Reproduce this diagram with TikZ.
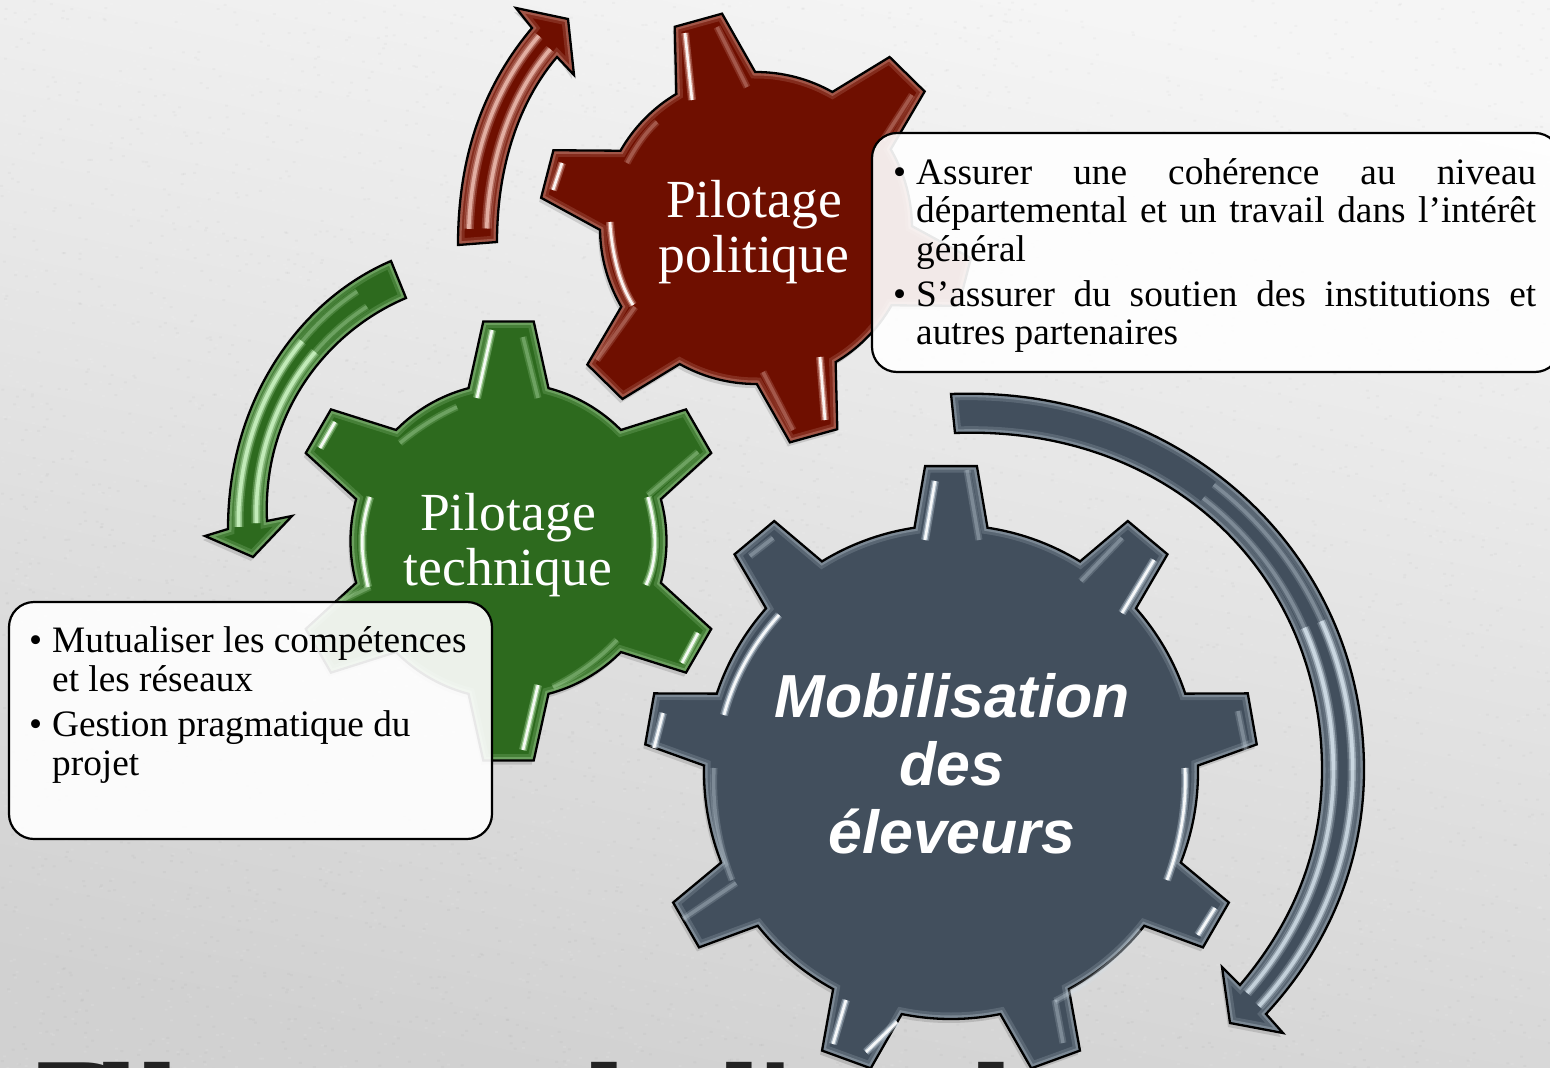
\documentclass[tikz,border=0pt]{standalone}
\usepackage{fontspec}
\setmainfont{Liberation Serif}
\newfontfamily\mobfont{Liberation Sans}
\newfontfamily\titlefont{DejaVu Sans}
\usetikzlibrary{calc}
\definecolor{redbase}{HTML}{6F0F00}
\definecolor{redlight}{HTML}{F2C4B8}
\definecolor{greenbase}{HTML}{2D6A1E}
\definecolor{greenlight}{HTML}{CDF5C4}
\definecolor{bluebase}{HTML}{424F5D}
\definecolor{bluelight}{HTML}{D5E2EC}
\definecolor{titleink}{HTML}{222222}
\tikzset{
  infobox/.style={draw=black,line width=2.2,fill=white,fill opacity=.91,rounded corners=25pt,inner sep=0,minimum width=#1},
  gearlabel/.style={text=white,align=center,inner sep=0,font=\fontsize{53.6}{55.5}\selectfont},
  bodytext/.style={inner sep=0,anchor=north west,text=black,font=\fontsize{37.3}{38.6}\selectfont},
  titlebit/.style={inner sep=0,anchor=base west,text=titleink,font=\titlefont\bfseries\fontsize{145}{145}\selectfont},
}
\newcommand\setgear[8]{\def\gx{#1}\def\gy{#2}\def\gR{#3}\def\gT{#4}\def\gph{#6}\def\gal{#7}\def\gbe{#8}%
  \pgfmathsetmacro\gst{360/#5}\pgfmathtruncatemacro\gnm{#5-1}}
\newcommand\gearoutline{({\gx+\gR*cos(\gph+\gal)},{\gy-\gR*sin(\gph+\gal)})
  \foreach \k [evaluate=\k as \ta using \gph-\k*\gst] in {0,...,\gnm}{
    -- ({\gx+\gT*cos(\ta+\gbe)},{\gy-\gT*sin(\ta+\gbe)})
    -- ({\gx+\gT*cos(\ta-\gbe)},{\gy-\gT*sin(\ta-\gbe)})
    -- ({\gx+\gR*cos(\ta-\gal)},{\gy-\gR*sin(\ta-\gal)})
    arc[start angle=\ta-\gal,end angle=\ta-\gst+\gal,radius=\gR pt]
  } -- cycle}
\newcommand\bevelshape[3]{%
  \fill[black,opacity=.13,shift={(-2,4)}] #1;
  \fill[#2] #1;
  \begin{scope}
    \clip #1;
    \draw[#3,opacity=.16,line width=13] #1;
    \draw[#3,opacity=.28,line width=7] #1;
  \end{scope}
  \draw[black,line width=2.3,line join=miter] #1;
}
\newcommand\bright[2]{%
  \draw[#1,opacity=.3,line width=8] #2;
  \draw[#1,opacity=.6,line width=5] #2;
  \draw[white,opacity=.9,line width=2.6] #2;}
\newcommand\soft[2]{%
  \draw[#1,opacity=.22,line width=10] #2;
  \draw[#1,opacity=.4,line width=6.5] #2;
  \draw[#1,opacity=.75,line width=3.5] #2;}
\newcommand\faint[2]{%
  \draw[#1,opacity=.18,line width=7] #2;
  \draw[#1,opacity=.28,line width=3.5] #2;}
% streak: the part t0..1 of a curve lying a fraction s across a shaft (outer edge A B C D, inner edge Ai Bi Ci Di)
\newcommand\streak[8]{%
  \coordinate (qA) at ($(#3)!#7!(#3i)$);
  \coordinate (qB) at ($(#4)!#7!(#4i)$);
  \coordinate (qC) at ($(#5)!#7!(#5i)$);
  \coordinate (qD) at ($(#6)!#7!(#6i)$);
  \coordinate (q1) at ($(qA)!#8!(qB)$);
  \coordinate (q2) at ($(qB)!#8!(qC)$);
  \coordinate (q3) at ($(qC)!#8!(qD)$);
  \coordinate (r1) at ($(q1)!#8!(q2)$);
  \coordinate (r2) at ($(q2)!#8!(q3)$);
  \coordinate (s0) at ($(r1)!#8!(r2)$);
  #1{#2}{(s0) .. controls (r2) and (q3) .. (qD)}}
\begin{document}
\begin{tikzpicture}[x=1pt,y=-1pt,line cap=butt]
\path[use as bounding box] (0,0) rectangle (1550,1068);
% background
\shade[shading=axis,top color=white!96!black,bottom color=white!82!black,shading angle=-12] (0,0) rectangle (1550,1068);
\pgfmathsetseed{42}
\foreach \j in {1,...,80}{
  \fill[white,opacity=.09] \foreach \i in {1,...,50}{({775+775*rand},{534+534*rand}) rectangle ++(3,2)};
  \fill[black,opacity=.022] \foreach \i in {1,...,50}{({775+775*rand},{534+534*rand}) rectangle ++(3,2)};
}
% cropped title: only the tops of the letters are on the page
\node[titlebit] (tPil) at (25,1172) {\raisebox{4pt}{P}\kern-39.6pt i\kern-9.7pt l};
\node[titlebit] (td) at (525,1172) {d};
\node[titlebit] (tl2) at (714,1172) {l\kern-10.7pt\raisebox{4pt}{'}};
\node[titlebit] (tl3) at (966,1172) {l};
%---------- red arrow
\coordinate (a0) at (458,245); \coordinate (a1) at (458,155); \coordinate (a2) at (484,85); \coordinate (a3) at (532,28);
\coordinate (a0i) at (497,242); \coordinate (a1i) at (497,165); \coordinate (a2i) at (520,100); \coordinate (a3i) at (557,57);
\def\arrowpath{(a0) .. controls (a1) and (a2) .. (a3) -- (516,8) -- (568,19) -- (574,75) -- (a3i) .. controls (a2i) and (a1i) .. (a0i) -- cycle}
\bevelshape{\arrowpath}{redbase}{redlight}
\streak{\soft}{redlight}{a0}{a1}{a2}{a3}{.27}{.06}
\streak{\soft}{redlight}{a0}{a1}{a2}{a3}{.73}{.06}
%---------- green arrow
\coordinate (a0) at (391,261); \coordinate (a1) at (300,300); \coordinate (a2) at (228,400); \coordinate (a3) at (228,529);
\coordinate (a0i) at (406,298); \coordinate (a1i) at (330,330); \coordinate (a2i) at (262,410); \coordinate (a3i) at (267,521);
\def\arrowpath{(a0) .. controls (a1) and (a2) .. (a3) -- (205,536) -- (253,557) -- (292,516) -- (a3i) .. controls (a2i) and (a1i) .. (a0i) -- cycle}
\bevelshape{\arrowpath}{greenbase}{greenlight}
\streak{\faint}{greenlight}{a0}{a1}{a2}{a3}{.27}{.15}
\streak{\faint}{greenlight}{a0}{a1}{a2}{a3}{.73}{.15}
\streak{\soft}{greenlight}{a0}{a1}{a2}{a3}{.27}{.4}
\streak{\soft}{greenlight}{a0}{a1}{a2}{a3}{.73}{.4}
%---------- blue arrow
\coordinate (a0) at (951,394); \coordinate (a1) at (1180,385); \coordinate (a2) at (1364,550); \coordinate (a3) at (1364,770);
\coordinate (b1) at (1364,860); \coordinate (b2) at (1330,945); \coordinate (b3) at (1266,1014);
\coordinate (a0i) at (955,433); \coordinate (a1i) at (1165,425); \coordinate (a2i) at (1322,570); \coordinate (a3i) at (1322,770);
\coordinate (b1i) at (1322,850); \coordinate (b2i) at (1295,920); \coordinate (b3i) at (1240,985);
\def\arrowpath{(a0) .. controls (a1) and (a2) .. (a3) .. controls (b1) and (b2) .. (b3) -- (1283,1033) -- (1230,1023) -- (1222,967) -- (b3i) .. controls (b2i) and (b1i) .. (a3i) .. controls (a2i) and (a1i) .. (a0i) -- cycle}
\bevelshape{\arrowpath}{bluebase}{bluelight}
\streak{\soft}{bluelight}{a3}{b1}{b2}{b3}{.27}{.0}
\streak{\soft}{bluelight}{a3}{b1}{b2}{b3}{.73}{.0}
\streak{\faint}{bluelight}{a0}{a1}{a2}{a3}{.27}{.45}
\streak{\faint}{bluelight}{a0}{a1}{a2}{a3}{.73}{.45}
\streak{\soft}{bluelight}{a0}{a1}{a2}{a3}{.27}{.75}
\streak{\soft}{bluelight}{a0}{a1}{a2}{a3}{.73}{.75}
%---------- red gear
\setgear{756}{228}{156}{217}{6}{105.5}{15.2}{6.5}
\bevelshape{\gearoutline}{redbase}{redlight}
\bright{redlight}{(685,33) -- (692,100)}
\bright{redlight}{(562,163) -- (553,190)}
\bright{redlight}{(610,222) .. controls (612,255) and (620,285) .. (633,305)}
\bright{redlight}{(820,357) -- (825,420)}
\faint{redlight}{(717,27) -- (747,87)}
\faint{redlight}{(912,95) -- (883,140)}
\faint{redlight}{(627,163) .. controls (635,148) and (645,133) .. (657,122)}
\faint{redlight}{(635,307) -- (597,360)}
\faint{redlight}{(763,372) -- (793,430)}
\node[gearlabel] (lblPol) at (754,232) {Pilotage\\politique};
%---------- green gear
\setgear{508.5}{541}{158}{221}{6}{90}{14.65}{6.55}
\bevelshape{\gearoutline}{greenbase}{greenlight}
\bright{greenlight}{(492,330) -- (477,398)}
\bright{greenlight}{(335,422) -- (320,448)}
\bright{greenlight}{(370,497) .. controls (360,530) and (360,550) .. (368,587)}
\bright{greenlight}{(648,497) .. controls (657,530) and (658,560) .. (646,585)}
\bright{greenlight}{(698,633) -- (682,663)}
\bright{greenlight}{(538,685) -- (523,750)}
\faint{greenlight}{(523,337) -- (538,398)}
\faint{greenlight}{(698,452) -- (648,495)}
\faint{greenlight}{(400,443) .. controls (418,428) and (437,416) .. (457,407)}
\faint{greenlight}{(617,640) .. controls (598,660) and (577,675) .. (553,687)}
\faint{greenlight}{(370,587) -- (337,603)}
\node[gearlabel] (lblTec) at (508,545) {Pilotage\\technique};
%---------- blue gear
\setgear{951}{772}{247}{307}{9}{90}{8.5}{4.84}
\bevelshape{\gearoutline}{bluebase}{bluelight}
\bright{bluelight}{(935,481) -- (925,540)}
\bright{bluelight}{(1154,560) -- (1122,613)}
\bright{bluelight}{(779,615) .. controls (752,645) and (733,680) .. (724,715)}
\bright{bluelight}{(663,713) -- (654,748)}
\bright{bluelight}{(1185,768) .. controls (1187,805) and (1180,845) .. (1167,880)}
\bright{bluelight}{(1215,908) -- (1198,935)}
\bright{bluelight}{(846,1000) -- (833,1044)}
\bright{bluelight}{(897,1022) -- (866,1052)}
\faint{bluelight}{(967,470) -- (979,540)}
\faint{bluelight}{(773,538) -- (750,556)}
\faint{bluelight}{(1122,538) -- (1081,581)}
\faint{bluelight}{(1238,711) -- (1246,750)}
\faint{bluelight}{(714,768) .. controls (712,805) and (718,845) .. (732,880)}
\faint{bluelight}{(736,883) -- (683,919)}
\faint{bluelight}{(1140,930) .. controls (1115,960) and (1087,985) .. (1055,1001)}
\faint{bluelight}{(1055,1000) -- (1063,1043)}
\node[text=white,align=center,inner sep=0,font=\mobfont\bfseries\itshape\fontsize{60.8}{68}\selectfont] (lblMob) at (952,764) {Mobilisation\\des\\éleveurs};
%---------- info boxes
\node[infobox=688,minimum height=239] (boxR) at (1216,252.5) {};
\node[infobox=483,minimum height=237] (boxL) at (250.5,720.5) {};
\node[bodytext,text width=620,align=justify] (txtR) at (916,158) {%
  \parskip=6.2pt\emergencystretch=60pt
  \leavevmode\llap{•\kern10pt}Assurer une cohérence au niveau\linebreak départemental et un travail dans l’intérêt\linebreak général\par
  \leavevmode\llap{•\kern10pt}S’assurer du soutien des institutions et\linebreak autres partenaires\par};
\node[bodytext,align=left] (txtL) at (52,626.5) {%
  \leavevmode\llap{•\kern10pt}Mutualiser les compétences\\et les réseaux\\[7pt]
  \leavevmode\llap{•\kern10pt}Gestion pragmatique du\\projet};
\end{tikzpicture}
\end{document}
